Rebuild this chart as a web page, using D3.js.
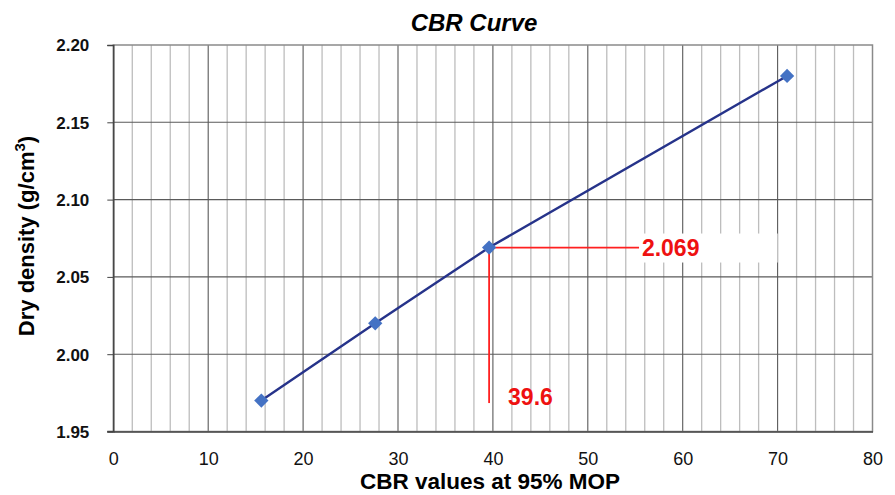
<!DOCTYPE html>
<html><head><meta charset="utf-8">
<script src="https://cdn.jsdelivr.net/npm/d3@7"></script>
<style>body{margin:0;background:#fff;font-family:"Liberation Sans",Arial,sans-serif}</style>
</head><body><svg id="c" width="895" height="495"></svg>
<script>
const cbrValues = [15.6, 27.6, 39.6, 71.0];
const dryDensity = [1.970, 2.020, 2.069, 2.180];
const xTicks = [0,10,20,30,40,50,60,70,80];
const yTicks = [1.95,2.00,2.05,2.10,2.15,2.20];
const readX = 39.6, readY = 2.069;
const readXLabel = "39.6", readYLabel = "2.069";

const svg = d3.select("#c");
const L=113.3, R=872.5, T=45, B=431.5;
const x = d3.scaleLinear().domain([0,80]).range([L,R]);
const y = d3.scaleLinear().domain([1.95,2.20]).range([B,T]);

// minor vertical grid
const minor = d3.range(2,80,2).filter(v=>v%10!==0);
svg.append("g").selectAll("line").data(minor).join("line")
  .attr("x1",d=>x(d)).attr("x2",d=>x(d)).attr("y1",T).attr("y2",B)
  .attr("stroke","#bdbdbd").attr("stroke-width",1.3);
// major vertical grid
svg.append("g").selectAll("line").data(xTicks.filter(v=>v>0&&v<80)).join("line")
  .attr("x1",d=>x(d)).attr("x2",d=>x(d)).attr("y1",T).attr("y2",B)
  .attr("stroke","#5a5a5a").attr("stroke-width",1.1);
// horizontal grid
svg.append("g").selectAll("line").data(yTicks.filter(v=>v>1.95&&v<2.2)).join("line")
  .attr("x1",L).attr("x2",R).attr("y1",d=>y(d)).attr("y2",d=>y(d))
  .attr("stroke","#5a5a5a").attr("stroke-width",1.1);
// border
svg.append("rect").attr("x",L).attr("y",T).attr("width",R-L).attr("height",B-T)
  .attr("fill","none").attr("stroke","#8a8a8a").attr("stroke-width",1.5);
// axes
const ya = d3.axisLeft(y).tickValues(yTicks).tickSize(6).tickFormat(d3.format(".2f"));
const gy = svg.append("g").attr("transform",`translate(${L},0)`).call(ya);
gy.select(".domain").attr("stroke","#444").attr("stroke-width",1.5);
gy.selectAll(".tick line").attr("stroke","#444");
gy.selectAll("text").attr("font-size",17).attr("font-weight","bold").attr("fill","#111")
  .attr("font-family","Liberation Sans, Arial").attr("x",-24).attr("dy","0.35em");
const xa = d3.axisBottom(x).tickValues(xTicks).tickSize(0).tickFormat(d3.format("d"));
const gx = svg.append("g").attr("transform",`translate(0,${B})`).call(xa);
gx.select(".domain").attr("stroke","#444").attr("stroke-width",1.5);
gx.selectAll("text").attr("font-size",18).attr("fill","#111")
  .attr("font-family","Liberation Sans, Arial").attr("y",21);
svg.append("line").attr("x1",L-6).attr("x2",L).attr("y1",B).attr("y2",B).attr("stroke","#444").attr("stroke-width",1.5);

// white label box for 2.069
svg.append("rect").attr("x",x(55.6)).attr("y",y(readY)-14).attr("width",x(70)-x(55.6)).attr("height",29).attr("fill","#fff");

// red reading lines
svg.append("line").attr("x1",x(readX)).attr("x2",x(55.4)).attr("y1",y(readY)).attr("y2",y(readY))
  .attr("stroke","#ff2020").attr("stroke-width",1.8);
svg.append("line").attr("x1",x(readX)).attr("x2",x(readX)).attr("y1",y(readY)).attr("y2",y(1.9684))
  .attr("stroke","#ff2020").attr("stroke-width",1.8);
svg.append("text").attr("x",x(55.7)).attr("y",y(readY)+8).text(readYLabel)
  .attr("fill","#ee1111").attr("font-size",23).attr("font-weight","bold");
svg.append("text").attr("x",x(41.6)).attr("y",y(1.9684)+2).text(readXLabel)
  .attr("fill","#ee1111").attr("font-size",23).attr("font-weight","bold");

// series line
const pts = cbrValues.map((v,i)=>[v,dryDensity[i]]);
svg.append("path").datum(pts).attr("fill","none").attr("stroke","#26338a").attr("stroke-width",2.4)
  .attr("d",d3.line().x(d=>x(d[0])).y(d=>y(d[1])));
svg.append("g").selectAll("path").data(pts).join("path")
  .attr("d",d3.symbol().type(d3.symbolDiamond2).size(130))
  .attr("transform",d=>`translate(${x(d[0])},${y(d[1])})`)
  .attr("fill","#4472c4");

// titles
svg.append("text").attr("x",474).attr("y",31).attr("text-anchor","middle")
  .attr("font-size",24).attr("font-weight","bold").attr("font-style","italic").text("CBR Curve");
svg.append("text").attr("x",490).attr("y",489).attr("text-anchor","middle")
  .attr("font-size",22.5).attr("font-weight","bold").text("CBR values at 95% MOP");
const yt = svg.append("text").attr("transform","translate(34,236) rotate(-90)").attr("text-anchor","middle")
  .attr("font-size",22).attr("font-weight","bold");
yt.append("tspan").text("Dry density (g/cm");
yt.append("tspan").text("3").attr("font-size",15).attr("dy",-9);
yt.append("tspan").text(")").attr("dy",9);
</script></body></html>
